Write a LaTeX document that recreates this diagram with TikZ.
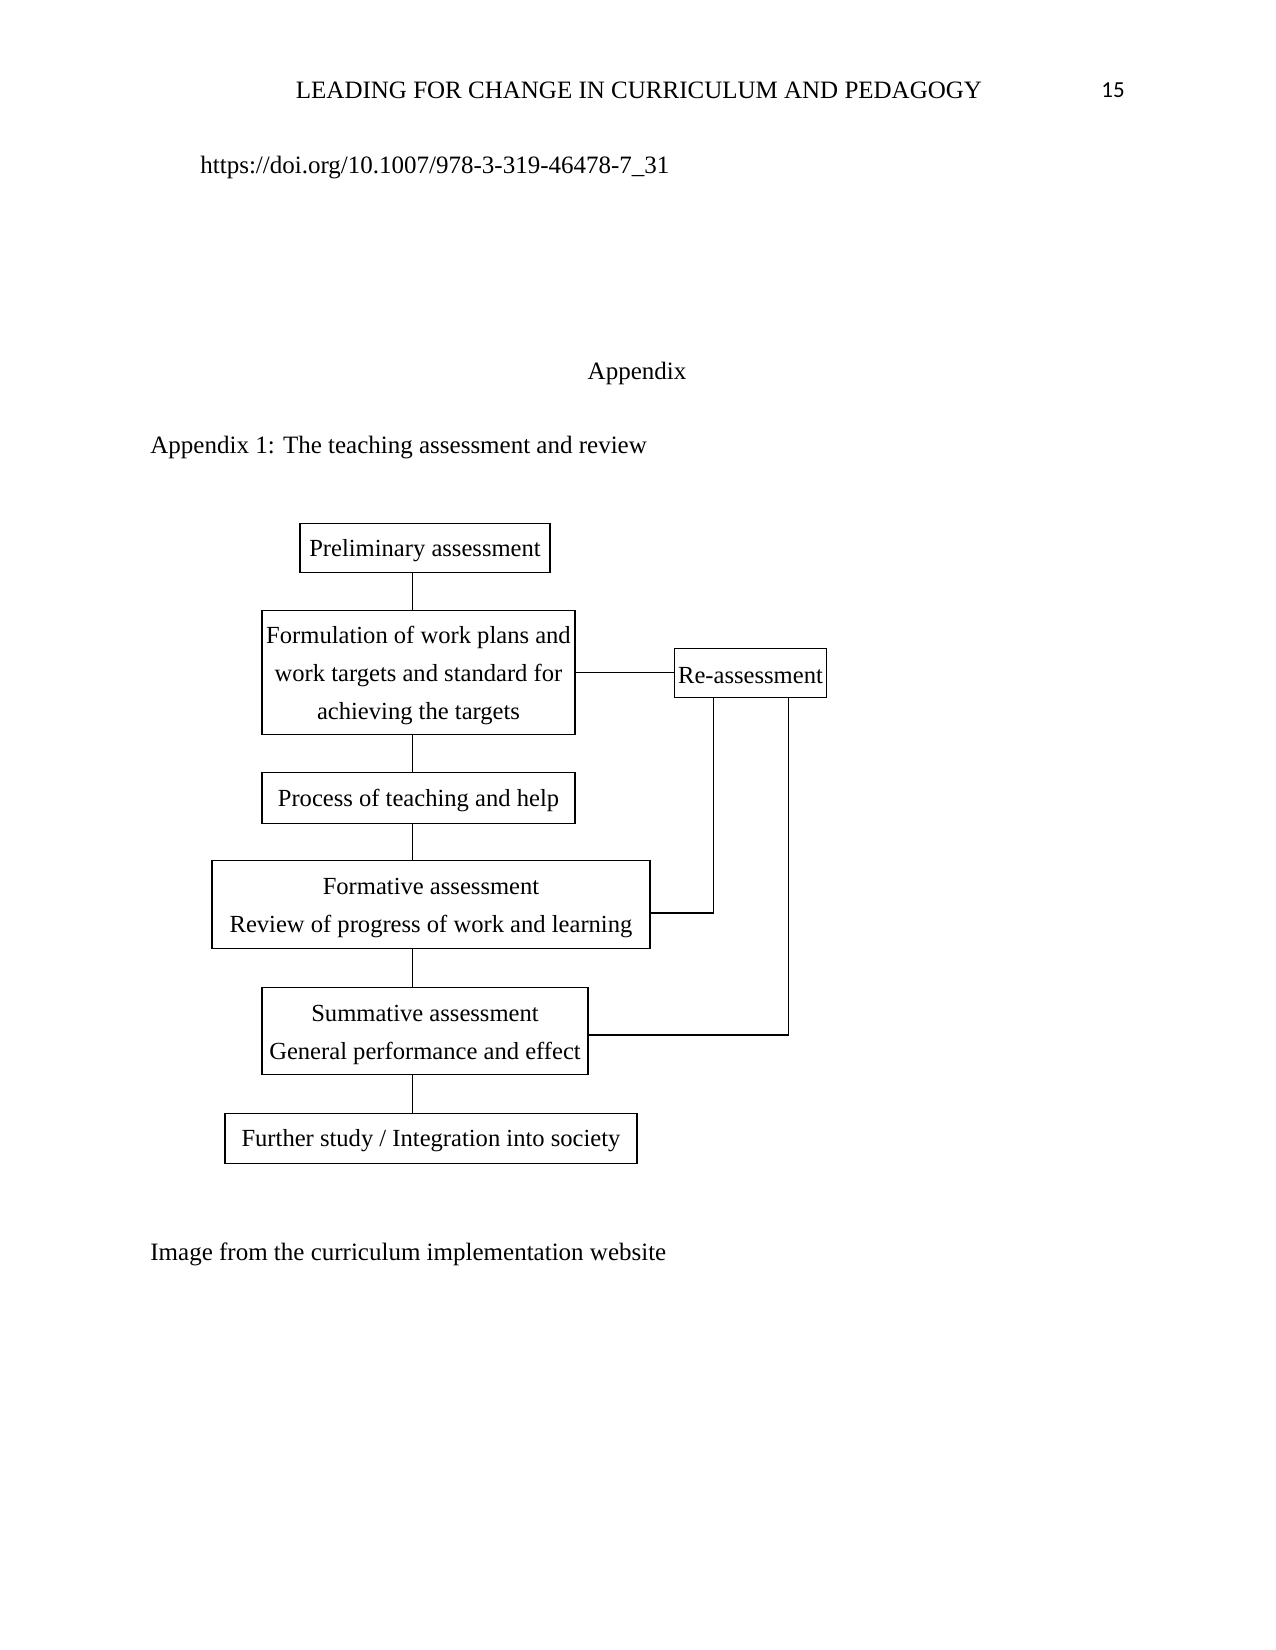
\documentclass[tikz,border=0pt]{standalone}
\usepackage{fontspec}
\setmainfont{Liberation Serif}
\newfontfamily\pagenumfont{Carlito}
\usetikzlibrary{positioning}

\tikzset{
    stage/.style={draw, rectangle, line width=0.6pt, align=center, inner sep=0pt,
        font=\fontsize{11.8}{18.2}\selectfont, text height=10.5pt},
    twolines/.style={text height=29.5pt},
    threelines/.style={text height=47.7pt},
    link/.style={line width=0.6pt},
    pagetext/.style={font=\fontsize{12}{14}\selectfont, inner sep=0pt}
}

\begin{document}
\begin{tikzpicture}[x=0.48pt, y=-0.48pt]
    \useasboundingbox (0,0) rectangle (1275,1650);

    % page text
    \node[pagetext, anchor=base] (header) at (639,99) {LEADING FOR CHANGE IN CURRICULUM AND PEDAGOGY};
    \node[pagetext, anchor=base, font=\pagenumfont\fontsize{11}{13}\selectfont] (pagenum) at (1113,98) {15};
    \node[pagetext, anchor=base west] (doi) at (200,174) {https://doi.org/10.1007/978-3-319-46478-7\_31};
    \node[pagetext, anchor=base] (apptitle) at (637,380) {Appendix};
    \node[pagetext, anchor=base west] (caption) at (150,453) {Appendix 1: The teaching assessment and review};
    \node[pagetext, anchor=base west] (source) at (150,1260) {Image from the curriculum implementation website};

    % stages
    \node[stage, minimum width=250*0.48pt, minimum height=49*0.48pt] (prelim) at (425,548) {Preliminary assessment};
    \node[stage, threelines, minimum width=313*0.48pt, minimum height=124*0.48pt] (formul) at (418.5,672.5) {Formulation of work plans and\\work targets and standard for\\achieving the targets};
    \node[stage, minimum width=152*0.48pt, minimum height=49*0.48pt] (reass) at (750.5,673) {Re-assessment};
    \node[stage, minimum width=313*0.48pt, minimum height=51*0.48pt] (process) at (418.5,798) {Process of teaching and help};
    \node[stage, twolines, minimum width=438*0.48pt, minimum height=88*0.48pt] (formative) at (431,904.5) {Formative assessment\\Review of progress of work and learning};
    \node[stage, twolines, minimum width=326*0.48pt, minimum height=87*0.48pt] (summative) at (425,1031) {Summative assessment\\General performance and effect};
    \node[stage, minimum width=412*0.48pt, minimum height=50*0.48pt] (further) at (431,1138.5) {Further study / Integration into society};

    % trunk and loop corners
    \coordinate (trunk) at (412.5,0);
    \coordinate (loopa) at (713.5,913);
    \coordinate (loopb) at (788.5,1035);

    \draw[link] (prelim.south -| trunk) -- (formul.north -| trunk);
    \draw[link] (formul.south -| trunk) -- (process.north -| trunk);
    \draw[link] (process.south -| trunk) -- (formative.north -| trunk);
    \draw[link] (formative.south -| trunk) -- (summative.north -| trunk);
    \draw[link] (summative.south -| trunk) -- (further.north -| trunk);

    \draw[link] (formul.east) -- (formul.east -| reass.west);
    \draw[link] (reass.south -| loopa) -- (loopa) -- (loopa -| formative.east);
    \draw[link] (reass.south -| loopb) -- (loopb) -- (loopb -| summative.east);
\end{tikzpicture}
\end{document}
